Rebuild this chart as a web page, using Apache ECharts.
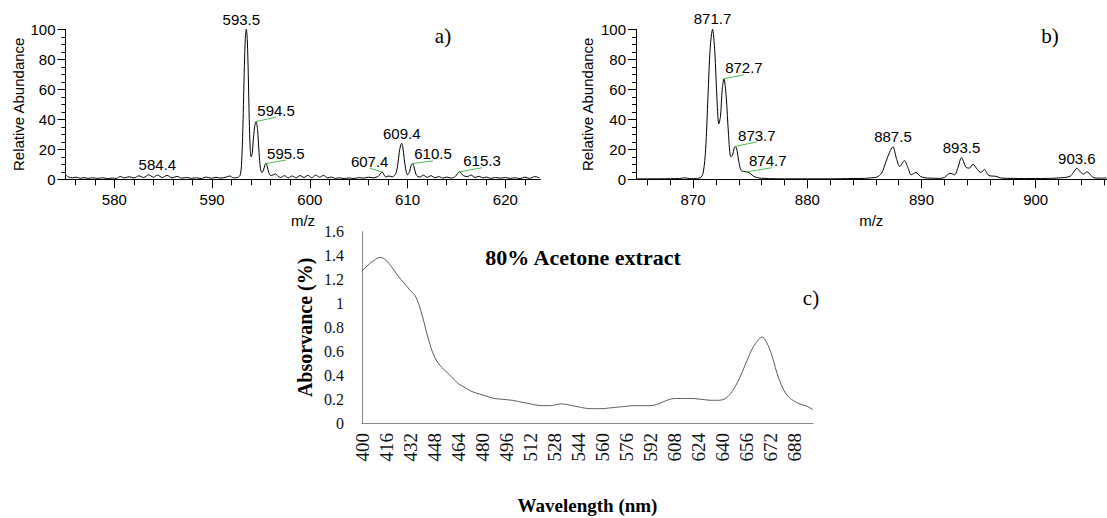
<!DOCTYPE html>
<html>
<head>
<meta charset="utf-8">
<script src="https://cdn.jsdelivr.net/npm/echarts@6/dist/echarts.min.js"></script>
<style>
  html, body { margin: 0; padding: 0; background: #ffffff; }
  #chart { width: 1107px; height: 518px; }
</style>
</head>
<body>
<div id="chart"></div>
<script>
// a) ESI mass spectrum, m/z 575 - 623.5: [m/z, relative abundance %]
const spectrumA = [
  [575.0, 3.0], [575.3, 1.6], [575.7, 1.0], [576.1, 1.4], [576.5, 0.7], [576.9, 1.1],
  [577.3, 0.6], [577.8, 1.0], [578.3, 0.6], [578.8, 1.0], [579.3, 0.5], [579.8, 0.8],
  [580.2, 0.6], [580.6, 1.9], [581.0, 0.9], [581.5, 1.7], [582.0, 0.9], [582.5, 2.3],
  [583.0, 1.2], [583.5, 3.0], [584.0, 1.4], [584.4, 2.8], [584.9, 1.2], [585.4, 2.6],
  [585.9, 1.0], [586.4, 1.9], [586.9, 0.8], [587.4, 1.2], [587.9, 0.6], [588.4, 1.0],
  [588.9, 0.5], [589.4, 1.5], [589.9, 0.7], [590.4, 1.3], [590.9, 0.8], [591.4, 1.4],
  [591.8, 2.2], [592.2, 1.0], [592.6, 1.2], [592.85, 2.5], [593.0, 9], [593.15, 35],
  [593.3, 75], [593.4, 94], [593.5, 100], [593.6, 93], [593.7, 70], [593.8, 40],
  [593.9, 20], [594.0, 15], [594.1, 17], [594.2, 25], [594.35, 35], [594.5, 38.5],
  [594.65, 33], [594.8, 18], [594.95, 7], [595.1, 4.5], [595.25, 6], [595.4, 9.5],
  [595.5, 10.5], [595.62, 9], [595.8, 4.5], [596.0, 2.5], [596.25, 3.0], [596.5, 3.6],
  [596.75, 2.0], [597.0, 1.2], [597.4, 2.4], [597.8, 1.0], [598.2, 2.2], [598.6, 1.0],
  [599.0, 2.5], [599.4, 1.2], [599.8, 2.6], [600.2, 1.0], [600.6, 2.8], [601.0, 1.4],
  [601.4, 2.6], [601.8, 1.0], [602.2, 1.5], [602.6, 0.6], [603.0, 1.0], [603.5, 0.5],
  [604.0, 0.9], [604.5, 0.5], [605.0, 1.1], [605.5, 0.8], [606.0, 1.4], [606.5, 1.0],
  [607.0, 2.0], [607.4, 4.8], [607.75, 1.6], [608.1, 2.2], [608.45, 1.6], [608.8, 4.0],
  [609.0, 10], [609.15, 18], [609.3, 23], [609.4, 24], [609.5, 22], [609.65, 14],
  [609.8, 7], [610.0, 3], [610.2, 5], [610.35, 9], [610.5, 10.5], [610.65, 8.5],
  [610.85, 3.5], [611.05, 1.8], [611.3, 1.6], [611.6, 2.8], [612.0, 1.3], [612.4, 2.4],
  [612.8, 1.0], [613.2, 1.8], [613.6, 0.8], [614.0, 1.5], [614.5, 0.8], [614.9, 2.0],
  [615.3, 5.0], [615.7, 2.5], [616.1, 1.8], [616.5, 2.8], [616.9, 1.2], [617.3, 2.0],
  [617.7, 1.0], [618.1, 1.5], [618.5, 0.6], [619.0, 1.2], [619.5, 0.8], [620.0, 1.2],
  [620.5, 0.6], [621.0, 1.0], [621.5, 0.5], [622.0, 1.4], [622.5, 0.6], [623.0, 1.8],
  [623.5, 1.0]
];

// b) ESI mass spectrum, m/z 865 - 906.2
const spectrumB = [
  [865.0, 0.3], [866.0, 0.3], [867.0, 0.3], [868.0, 0.4], [868.8, 0.5], [869.3, 1.0],
  [869.7, 0.4], [870.3, 0.5], [870.7, 1.5], [870.9, 5], [871.1, 20], [871.3, 55],
  [871.5, 88], [871.7, 100], [871.9, 85], [872.1, 52], [872.25, 37], [872.4, 42],
  [872.55, 60], [872.7, 67], [872.9, 55], [873.1, 30], [873.3, 15], [873.45, 16],
  [873.6, 21], [873.7, 22], [873.85, 19], [874.0, 12], [874.2, 6], [874.45, 5.2],
  [874.7, 5.0], [875.0, 4.0], [875.3, 2.0], [875.7, 1.0], [876.2, 0.6], [877.0, 0.4],
  [878.0, 0.3], [880.0, 0.3], [882.0, 0.3], [883.0, 0.4], [884.0, 0.5], [885.0, 0.6],
  [885.6, 1.0], [886.1, 1.5], [886.5, 4], [886.9, 12], [887.2, 18], [887.5, 21.7],
  [887.8, 14], [888.1, 8.5], [888.5, 12.5], [888.8, 8], [889.1, 3], [889.5, 4.5],
  [889.9, 2], [890.3, 1.0], [890.8, 0.8], [891.5, 0.6], [892.0, 1.2], [892.5, 4.0],
  [892.9, 3.0], [893.2, 8], [893.5, 14.5], [893.9, 8], [894.2, 7.5], [894.5, 10],
  [894.9, 6.5], [895.2, 4.5], [895.5, 6.5], [895.9, 2.5], [896.5, 2.0], [897.0, 0.8],
  [898.0, 0.6], [899.0, 0.5], [900.0, 0.5], [901.0, 0.6], [901.8, 0.8], [902.5, 1.2],
  [903.0, 2.0], [903.3, 4.5], [903.6, 7.3], [903.9, 5.0], [904.2, 3.5], [904.5, 5.0],
  [904.8, 3.0], [905.1, 1.0], [905.6, 0.8], [906.2, 0.8]
];

// Annotated peaks (m/z values printed above the traces)
const peaksA = [593.5, 594.5, 595.5, 584.4, 607.4, 609.4, 610.5, 615.3];
const peaksB = [871.7, 872.7, 873.7, 874.7, 887.5, 893.5, 903.6];

// Axis ticks and labels for the two spectra
const ticksA = [576, 578, 580, 582, 584, 586, 588, 590, 592, 594, 596, 598, 600, 602, 604,
                606, 608, 610, 612, 614, 616, 618, 620, 622];
const tickLabelsA = [580, 590, 600, 610, 620];
const ticksB = [866, 868, 870, 872, 874, 876, 878, 880, 882, 884, 886, 888, 890, 892, 894,
                896, 898, 900, 902, 904, 906];
const tickLabelsB = [870, 880, 890, 900];

// c) UV-Vis absorbance of the 80% acetone extract
const wavelengths = [
  400, 404, 408, 412, 416, 420, 424, 428, 432, 436, 440, 444, 448, 452, 456, 460, 464, 468,
  472, 476, 480, 484, 488, 492, 496, 500, 504, 508, 512, 516, 520, 524, 528, 532, 536, 540,
  544, 548, 552, 556, 560, 564, 568, 572, 576, 580, 584, 588, 592, 596, 600, 604, 608, 612,
  616, 620, 624, 628, 632, 636, 640, 644, 648, 652, 656, 660, 664, 666, 668, 672, 676, 680,
  684, 688, 692, 696, 700
];
const absorbance = [
  1.27, 1.32, 1.36, 1.385, 1.36, 1.30, 1.23, 1.17, 1.11, 1.05, 0.90, 0.71, 0.56, 0.48, 0.43, 0.38, 0.33, 0.30,
  0.27, 0.25, 0.235, 0.22, 0.205, 0.20, 0.195, 0.19, 0.18, 0.17, 0.16, 0.15, 0.145, 0.145, 0.15, 0.16, 0.155, 0.145,
  0.135, 0.125, 0.12, 0.12, 0.12, 0.125, 0.13, 0.135, 0.14, 0.145, 0.145, 0.145, 0.145, 0.155, 0.175, 0.195, 0.205, 0.205,
  0.205, 0.205, 0.20, 0.195, 0.19, 0.19, 0.195, 0.23, 0.30, 0.40, 0.52, 0.63, 0.70, 0.717, 0.70, 0.59, 0.42, 0.29,
  0.215, 0.18, 0.155, 0.14, 0.11
];

// Label placement around each annotated peak (pixel offsets from the peak top).
// Labels with a leader get a short green line drawn to their baseline.
const labelPlacementA = {
  '593.5': { dx: -5, dy: -10 },
  '594.5': { dx: 20, dy: -4.5, leader: true },
  '595.5': { dx: 20, dy: -3.5, leader: true },
  '584.4': { dx: 0, dy: -11 },
  '607.4': { dx: -12.5, dy: -4, leader: true },
  '609.4': { dx: 0, dy: -10 },
  '610.5': { dx: 20.5, dy: -2.6, leader: true },
  '615.3': { dx: 22.6, dy: -4, leader: true }
};
const labelPlacementB = {
  '871.7': { dx: 0, dy: -11 },
  '872.7': { dx: 20, dy: -4, leader: true },
  '873.7': { dx: 21.5, dy: -4.3, leader: true },
  '874.7': { dx: 25, dy: -4, leader: true, tx: -4 },
  '887.5': { dx: 0, dy: -10 },
  '893.5': { dx: 0, dy: -10 },
  '903.6': { dx: 0, dy: -9.5 }
};

const SANS = '"Liberation Sans", Arial, Helvetica, sans-serif';
const SERIF = '"Liberation Serif", "Times New Roman", serif';
const LEADER_GREEN = '#52b852';

function peakPoints(peaks, spectrum) {
  return peaks.map(function (mz) {
    const hit = spectrum.find(function (p) { return Math.abs(p[0] - mz) < 1e-6; });
    return [mz, hit ? hit[1] : 0];
  });
}

function peakLabelSeries(peaks, spectrum, placement, xIdx, yIdx) {
  return {
    type: 'custom',
    coordinateSystem: 'cartesian2d',
    xAxisIndex: xIdx,
    yAxisIndex: yIdx,
    data: peakPoints(peaks, spectrum),
    clip: false,
    silent: true,
    z: 5,
    renderItem: function (params, api) {
      const mz = api.value(0);
      const p = api.coord([mz, api.value(1)]);
      const cfg = placement[mz.toFixed(1)];
      const ex = p[0] + cfg.dx;
      const ey = p[1] + cfg.dy;
      const children = [];
      const textStyle = {
        text: mz.toFixed(1),
        font: '15px ' + SANS,
        fill: '#000000',
        align: 'center',
        verticalAlign: 'middle'
      };
      if (cfg.leader) {
        children.push({
          type: 'line',
          shape: { x1: p[0], y1: p[1], x2: ex, y2: ey },
          style: { stroke: LEADER_GREEN, lineWidth: 1 }
        });
        children.push({ type: 'text', x: ex + (cfg.tx || 0), y: ey - 7, style: textStyle });
      } else {
        children.push({ type: 'text', x: ex, y: ey, style: textStyle });
      }
      return { type: 'group', children: children };
    }
  };
}

function spectrumYAxis(gridIndex, nameGap) {
  return {
    gridIndex: gridIndex,
    type: 'value',
    min: 0,
    max: 100,
    interval: 20,
    name: 'Relative Abundance',
    nameLocation: 'middle',
    nameGap: nameGap,
    nameTextStyle: { fontFamily: SANS, fontSize: 15, color: '#000' },
    axisLine: { show: true, lineStyle: { color: '#000', width: 1 } },
    axisTick: { show: true, length: 8, lineStyle: { color: '#000' } },
    minorTick: { show: true, splitNumber: 4, length: 4, lineStyle: { color: '#000' } },
    axisLabel: { fontFamily: SANS, fontSize: 15, color: '#000', margin: 10 },
    splitLine: { show: false },
    minorSplitLine: { show: false }
  };
}

function spectrumXAxes(gridIndex, min, max, ticks, labels) {
  return [
    {
      gridIndex: gridIndex,
      type: 'value',
      position: 'bottom',
      min: min,
      max: max,
      name: 'm/z',
      nameLocation: 'middle',
      nameGap: 34,
      nameTextStyle: { fontFamily: SANS, fontSize: 15, color: '#000' },
      axisLine: { show: true, onZero: false, lineStyle: { color: '#000', width: 1 } },
      axisTick: { show: true, length: 6, customValues: ticks, lineStyle: { color: '#000' } },
      axisLabel: { show: false },
      splitLine: { show: false }
    },
    {
      gridIndex: gridIndex,
      type: 'value',
      position: 'bottom',
      offset: 0,
      min: min,
      max: max,
      axisLine: { show: false, onZero: false },
      axisTick: { show: true, length: 9, customValues: labels, lineStyle: { color: '#000' } },
      axisLabel: { show: true, customValues: labels, fontFamily: SANS, fontSize: 15, color: '#000', margin: 13 },
      splitLine: { show: false }
    }
  ];
}

const chart = echarts.init(document.getElementById('chart'), null, { renderer: 'svg' });

const option = {
  animation: false,
  backgroundColor: '#ffffff',
  grid: [
    { left: 65.5, top: 29.3, width: 475, height: 150 },
    { left: 636, top: 29.3, width: 470.5, height: 150 },
    { left: 362, top: 231.7, width: 451, height: 191.3 }
  ],
  xAxis: [].concat(
    spectrumXAxes(0, 575, 623.6, ticksA, tickLabelsA),
    spectrumXAxes(1, 865, 906.2, ticksB, tickLabelsB),
    [{
      gridIndex: 2,
      type: 'value',
      min: 400,
      max: 700,
      interval: 16,
      name: 'Wavelength (nm)',
      nameLocation: 'middle',
      nameGap: 73,
      nameTextStyle: { fontFamily: SERIF, fontSize: 19, fontWeight: 'bold', color: '#000' },
      axisLine: { show: true, onZero: false, lineStyle: { color: '#878787', width: 1 } },
      axisTick: { show: false },
      axisLabel: {
        rotate: 90, fontFamily: SERIF, fontSize: 19, color: '#111', margin: 10,
        showMaxLabel: false
      },
      splitLine: { show: false }
    }]
  ),
  yAxis: [
    spectrumYAxis(0, 40),
    spectrumYAxis(1, 41),
    {
      gridIndex: 2,
      type: 'value',
      min: 0,
      max: 1.6,
      interval: 0.2,
      name: 'Absorvance (%)',
      nameLocation: 'middle',
      nameGap: 47,
      nameTextStyle: { fontFamily: SERIF, fontSize: 20, fontWeight: 'bold', color: '#000' },
      axisLine: { show: true, lineStyle: { color: '#878787', width: 1 } },
      axisTick: { show: false },
      axisLabel: { fontFamily: SERIF, fontSize: 16, color: '#111', margin: 18 },
      splitLine: { show: false }
    }
  ],
  series: [
    {
      type: 'line',
      xAxisIndex: 0,
      yAxisIndex: 0,
      data: spectrumA,
      showSymbol: false,
      smooth: 0.3,
      lineStyle: { color: '#000', width: 1 },
      silent: true
    },
    {
      type: 'line',
      xAxisIndex: 2,
      yAxisIndex: 1,
      data: spectrumB,
      showSymbol: false,
      smooth: 0.3,
      lineStyle: { color: '#000', width: 1 },
      silent: true
    },
    {
      type: 'line',
      xAxisIndex: 4,
      yAxisIndex: 2,
      data: wavelengths.map(function (w, i) { return [w, absorbance[i]]; }),
      showSymbol: false,
      smooth: 0.4,
      lineStyle: { color: '#5a5a5a', width: 1 },
      silent: true
    },
    peakLabelSeries(peaksA, spectrumA, labelPlacementA, 0, 0),
    peakLabelSeries(peaksB, spectrumB, labelPlacementB, 2, 1)
  ],
  graphic: [
    { type: 'text', x: 443, y: 36, style: { text: 'a)', font: '21px ' + SERIF, fill: '#000', align: 'center', verticalAlign: 'middle' } },
    { type: 'text', x: 1050, y: 36, style: { text: 'b)', font: '21px ' + SERIF, fill: '#000', align: 'center', verticalAlign: 'middle' } },
    { type: 'text', x: 811, y: 298, style: { text: 'c)', font: '21px ' + SERIF, fill: '#000', align: 'center', verticalAlign: 'middle' } },
    { type: 'text', x: 583, y: 257, style: { text: '80% Acetone extract', font: 'bold 22px ' + SERIF, fill: '#000', align: 'center', verticalAlign: 'middle' } }
  ]
};

chart.setOption(option);
</script>
</body>
</html>
